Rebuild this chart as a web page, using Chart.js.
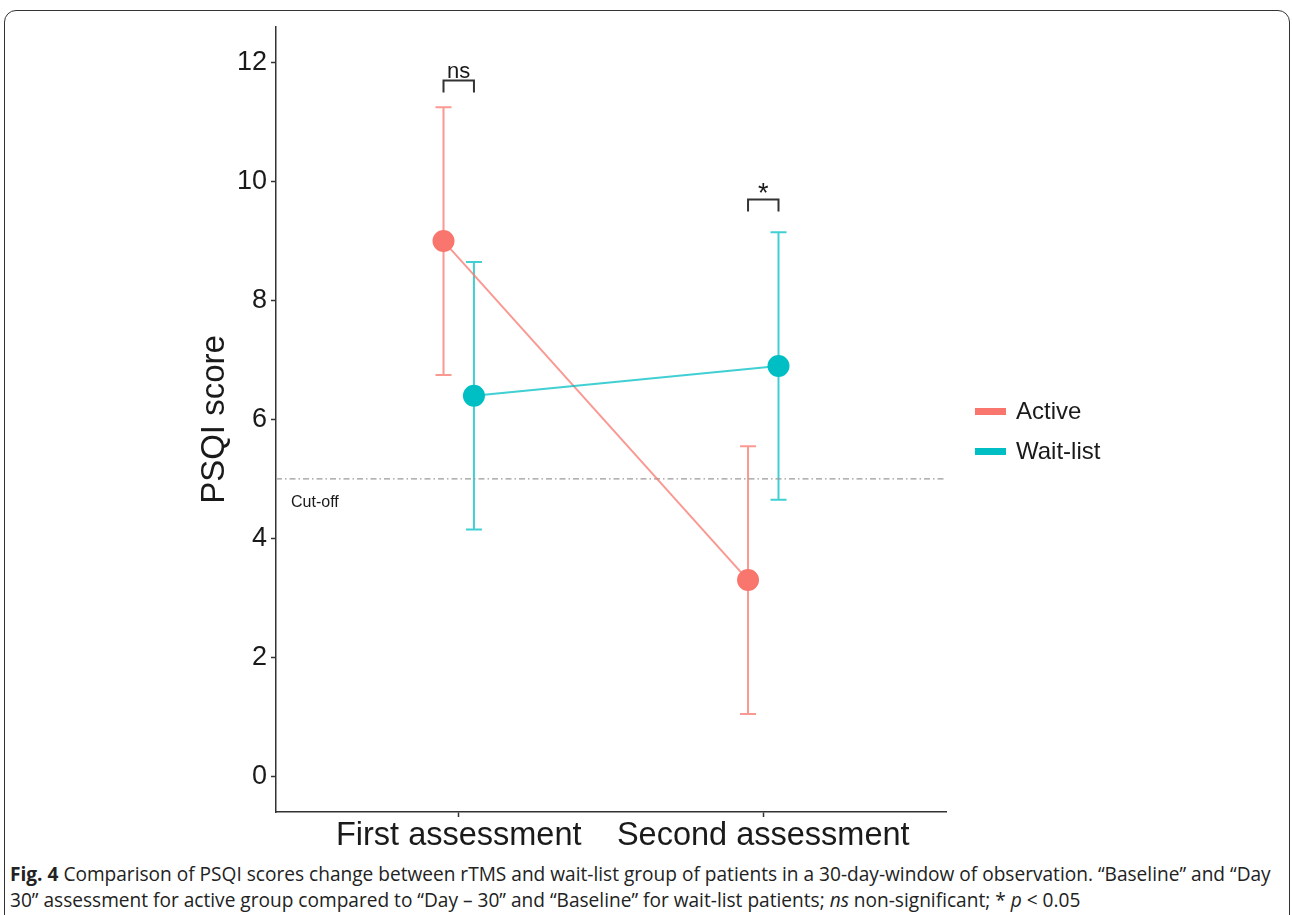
<!DOCTYPE html>
<html>
<head>
<meta charset="utf-8">
<script src="https://cdn.jsdelivr.net/npm/chart.js@4/dist/chart.umd.min.js"></script>
<style>
  html, body { margin: 0; padding: 0; background: #fff; }
  body { width: 1292px; height: 915px; position: relative; overflow: hidden; }
  #frame { position: absolute; left: 4px; top: 10px; width: 1286px; height: 940px;
           border: 1.5px solid #333; border-radius: 12px; box-sizing: border-box; }
  #wrap { position: absolute; left: 0; top: 0; width: 1292px; height: 860px; }
  #legend { position: absolute; left: 975px; top: 391px; font-family: "Liberation Sans", Arial, sans-serif;
            font-size: 24px; color: #1a1a1a; }
  .li { display: flex; align-items: center; height: 40px; }
  .sw { width: 31px; height: 7px; margin-right: 10px; }
  #caption { position: absolute; left: 10px; top: 861px; font-family: "Open Sans", sans-serif;
             font-size: 19.1px; line-height: 26px; color: #222; white-space: nowrap; letter-spacing: 0px; }
  #caption b { font-weight: 700; }
</style>
</head>
<body>
<div id="frame"></div>
<div id="wrap"><canvas id="c" width="1292" height="860"></canvas></div>
<div id="legend"></div>
<div id="caption"><b>Fig. 4</b> Comparison of PSQI scores change between rTMS and wait-list group of patients in a 30-day-window of observation. “Baseline” and “Day<br>30” assessment for active group compared to “Day – 30” and “Baseline” for wait-list patients; <i>ns</i> non-significant; * <i>p</i> &lt; 0.05</div>
<script>
// ---- data ----
const categories = ['First assessment', 'Second assessment'];
const seriesNames = ['Active', 'Wait-list'];
const activeMean = [9.0, 3.3];
const activeErr = [2.25, 2.25];
const waitMean = [6.4, 6.9];
const waitErr = [2.25, 2.25];
const cutoffValue = 5;
const cutoffLabel = 'Cut-off';
const yTicks = [0, 2, 4, 6, 8, 10, 12];
const bracketY = [11.7, 9.7];
const bracketLabels = ['ns', '*'];

// ---- style ----
const dodge = 0.05;
const colActive = '#F8766D', colWait = '#00BFC4';
const colActiveLine = 'rgba(248,118,109,0.75)', colWaitLine = 'rgba(0,191,196,0.75)';
const FONT = '"Liberation Sans", Arial, sans-serif';

// legend (HTML)
const lg = document.getElementById('legend');
[[seriesNames[0], colActive], [seriesNames[1], colWait]].forEach(([n, c]) => {
  const d = document.createElement('div'); d.className = 'li';
  d.innerHTML = '<span class="sw" style="background:' + c + '"></span><span>' + n + '</span>';
  lg.appendChild(d);
});

const pts = (means, off) => means.map((v, i) => ({ x: i + 1 + off, y: v }));
const errSets = [
  { means: activeMean, errs: activeErr, off: -dodge, color: colActiveLine },
  { means: waitMean, errs: waitErr, off: dodge, color: colWaitLine }
];

const overlay = {
  id: 'overlay',
  beforeDatasetsDraw(chart) {
    const { ctx, scales: { x, y } } = chart;
    ctx.save();
    ctx.lineWidth = 2;
    errSets.forEach(s => {
      ctx.strokeStyle = s.color;
      s.means.forEach((m, i) => {
        const px = x.getPixelForValue(i + 1 + s.off);
        const top = y.getPixelForValue(m + s.errs[i]);
        const bot = y.getPixelForValue(m - s.errs[i]);
        ctx.beginPath();
        ctx.moveTo(px, top); ctx.lineTo(px, bot);
        ctx.moveTo(px - 8, top); ctx.lineTo(px + 8, top);
        ctx.moveTo(px - 8, bot); ctx.lineTo(px + 8, bot);
        ctx.stroke();
      });
    });
    ctx.restore();
  },
  afterDatasetsDraw(chart) {
    const { ctx, chartArea, scales: { x, y } } = chart;
    ctx.save();
    // brackets
    ctx.strokeStyle = '#333'; ctx.lineWidth = 2; ctx.fillStyle = '#1a1a1a';
    bracketY.forEach((bv, i) => {
      const x1 = x.getPixelForValue(i + 1 - dodge), x2 = x.getPixelForValue(i + 1 + dodge);
      const yb = y.getPixelForValue(bv);
      ctx.beginPath();
      ctx.moveTo(x1, yb + 12); ctx.lineTo(x1, yb); ctx.lineTo(x2, yb); ctx.lineTo(x2, yb + 12);
      ctx.stroke();
      const star = bracketLabels[i] === '*';
      ctx.font = (star ? '27px ' : '22px ') + FONT;
      ctx.textAlign = 'center'; ctx.textBaseline = 'alphabetic';
      ctx.fillText(bracketLabels[i], (x1 + x2) / 2, star ? yb + 3 : yb - 3);
    });
    // cut-off label
    ctx.font = '16px ' + FONT; ctx.textAlign = 'left'; ctx.textBaseline = 'middle';
    ctx.fillText(cutoffLabel, chartArea.left + 15, y.getPixelForValue(cutoffValue) + 24);
    ctx.restore();
  }
};

new Chart(document.getElementById('c'), {
  type: 'scatter',
  data: {
    datasets: [
      { label: 'cutoff', data: [{ x: 0.4, y: cutoffValue }, { x: 2.6, y: cutoffValue }], showLine: true,
        borderColor: '#9a9a9a', borderWidth: 1.3, borderDash: [6, 3, 1.5, 3], pointRadius: 0, order: 3 },
      { label: seriesNames[0], data: pts(activeMean, -dodge), showLine: true, borderColor: colActiveLine,
        borderWidth: 2, pointRadius: 10, pointBackgroundColor: colActive, pointBorderColor: colActive, order: 2 },
      { label: seriesNames[1], data: pts(waitMean, dodge), showLine: true, borderColor: colWaitLine,
        borderWidth: 2, pointRadius: 10, pointBackgroundColor: colWait, pointBorderColor: colWait, order: 1 }
    ]
  },
  options: {
    responsive: false, animation: false, devicePixelRatio: 1,
    layout: { padding: { left: 195, top: 27, right: 346, bottom: 0 } },
    plugins: { legend: { display: false }, tooltip: { enabled: false } },
    scales: {
      x: {
        type: 'linear', min: 0.4, max: 2.6,
        afterBuildTicks: s => { s.ticks = categories.map((c, i) => ({ value: i + 1 })); },
        afterFit: s => { s.height = 48; },
        ticks: { callback: v => categories[Math.round(v) - 1], font: { family: FONT, size: 32.5 }, color: '#1a1a1a', padding: 0, maxRotation: 0, autoSkip: false },
        grid: { drawOnChartArea: false, drawTicks: true, tickLength: 5, color: '#333', tickWidth: 1.5 },
        border: { display: true, color: '#333', width: 1.5 }
      },
      y: {
        type: 'linear', min: -0.6, max: 12.6,
        afterBuildTicks: s => { s.ticks = yTicks.map(v => ({ value: v })); },
        afterFit: s => { s.width = 81; },
        ticks: { font: { family: FONT, size: 27 }, color: '#1a1a1a', padding: 4 },
        grid: { drawOnChartArea: false, drawTicks: true, tickLength: 5, color: '#333', tickWidth: 1.5 },
        border: { display: true, color: '#333', width: 1.5 },
        title: { display: true, text: 'PSQI score', font: { family: FONT, size: 33 }, color: '#1a1a1a', padding: 0 }
      }
    }
  },
  plugins: [overlay]
});
</script>
</body>
</html>
